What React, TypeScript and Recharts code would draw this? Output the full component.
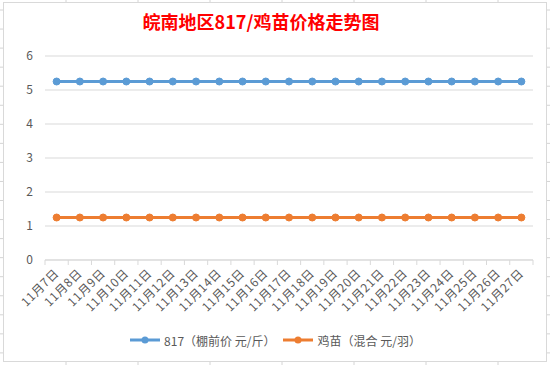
import React from "react";
import { LineChart, Line, XAxis, YAxis, CartesianGrid, Legend } from "recharts";

const dates = ["11月7日","11月8日","11月9日","11月10日","11月11日","11月12日","11月13日","11月14日","11月15日","11月16日","11月17日","11月18日","11月19日","11月20日","11月21日","11月22日","11月23日","11月24日","11月25日","11月26日","11月27日"];
const price817 = [5.25,5.25,5.25,5.25,5.25,5.25,5.25,5.25,5.25,5.25,5.25,5.25,5.25,5.25,5.25,5.25,5.25,5.25,5.25,5.25,5.25];
const priceChick = [1.25,1.25,1.25,1.25,1.25,1.25,1.25,1.25,1.25,1.25,1.25,1.25,1.25,1.25,1.25,1.25,1.25,1.25,1.25,1.25,1.25];
const yTicks = [0,1,2,3,4,5,6];
const seriesNames = ["817（棚前价 元/斤）", "鸡苗（混合 元/羽）"];
const title = "皖南地区817/鸡苗价格走势图";

const data = dates.map((d, i) => ({ date: d, a: price817[i], b: priceChick[i] }));

const FONT = "'Noto Sans CJK SC', 'Noto Sans', sans-serif";
const BLUE = "#5b9bd5";
const ORANGE = "#ed7d31";

const XTick = (props: any) => {
  const { x, y, payload, index } = props;
  const step = 488 / dates.length;
  const axisY = y - 8;
  const tx = x + 3;
  const ty = axisY + 14;
  return (
    <g>
      <line x1={x - step / 2} y1={axisY} x2={x - step / 2} y2={axisY + 5} stroke="#d9d9d9" strokeWidth={1} />
      {index === dates.length - 1 && (
        <line x1={x + step / 2} y1={axisY} x2={x + step / 2} y2={axisY + 5} stroke="#d9d9d9" strokeWidth={1} />
      )}
      <text
        x={tx}
        y={ty}
        textAnchor="end"
        fill="#595959"
        fontSize={12}
        letterSpacing={0.6}
        fontFamily={FONT}
        transform={`rotate(-45 ${tx} ${ty})`}
      >
        {payload.value}
      </text>
    </g>
  );
};

const LegendContent = () => (
  <div style={{ display: "flex", justifyContent: "center", alignItems: "center", height: 30, fontFamily: FONT, fontSize: 12, color: "#595959", paddingLeft: 10 }}>
    {[BLUE, ORANGE].map((c, i) => (
      <div key={i} style={{ display: "flex", alignItems: "center", marginRight: i === 0 ? 8 : 0 }}>
        <svg width={30} height={10} style={{ marginRight: 4 }}>
          <line x1={0} y1={5} x2={30} y2={5} stroke={c} strokeWidth={3} />
          <circle cx={15} cy={5} r={3.5} fill={c} />
        </svg>
        <span>{seriesNames[i]}</span>
      </div>
    ))}
  </div>
);

const sheetV = [66, 138, 210, 282, 354, 426, 498];
const sheetH = Array.from({ length: 19 }, (_, k) => 10 + 19.05 * k);

export default function App() {
  return (
    <div style={{ position: "absolute", left: 0, top: 0, width: 550, height: 365, background: "#fff", overflow: "hidden" }}>
      <svg width={550} height={365} style={{ position: "absolute", left: 0, top: 0 }}>
        {sheetV.map((x) => (
          <g key={x}>
            <line x1={x} y1={0} x2={x} y2={2} stroke="#d4d4d4" />
            <line x1={x} y1={362} x2={x} y2={365} stroke="#d4d4d4" />
          </g>
        ))}
        {sheetH.map((y) => (
          <g key={y}>
            <line x1={0} y1={y} x2={3} y2={y} stroke="#d4d4d4" />
            <line x1={547} y1={y} x2={550} y2={y} stroke="#d4d4d4" />
          </g>
        ))}
        <rect x={3.5} y={2.5} width={543} height={359} fill="#fff" stroke="#d9d9d9" />
      </svg>
      <div style={{ position: "absolute", left: 0, top: 0 }}>
        <LineChart width={550} height={365} data={data} margin={{ top: 56, right: 17, left: 8, bottom: 10 }}>
          <text x={261} y={29} textAnchor="middle" fill="#ff0000" fontSize={18} fontWeight="bold" fontFamily={FONT}>
            {title}
          </text>
          <CartesianGrid vertical={false} stroke="#d9d9d9" />
          <XAxis
            dataKey="date"
            scale="band"
            interval={0}
            height={65}
            tick={<XTick />}
            tickLine={false}
            axisLine={{ stroke: "#d9d9d9" }}
          />
          <YAxis
            domain={[0, 6]}
            ticks={yTicks}
            width={37}
            axisLine={false}
            tickLine={false}
            tick={{ fill: "#595959", fontSize: 12, fontFamily: FONT }}
            tickMargin={6}
          />
          <Legend verticalAlign="bottom" content={<LegendContent />} />
          <Line dataKey="a" name={seriesNames[0]} stroke={BLUE} strokeWidth={3} dot={{ r: 3.5, fill: BLUE, stroke: BLUE, strokeWidth: 1 }} isAnimationActive={false} />
          <Line dataKey="b" name={seriesNames[1]} stroke={ORANGE} strokeWidth={3} dot={{ r: 3.5, fill: ORANGE, stroke: ORANGE, strokeWidth: 1 }} isAnimationActive={false} />
        </LineChart>
      </div>
    </div>
  );
}
